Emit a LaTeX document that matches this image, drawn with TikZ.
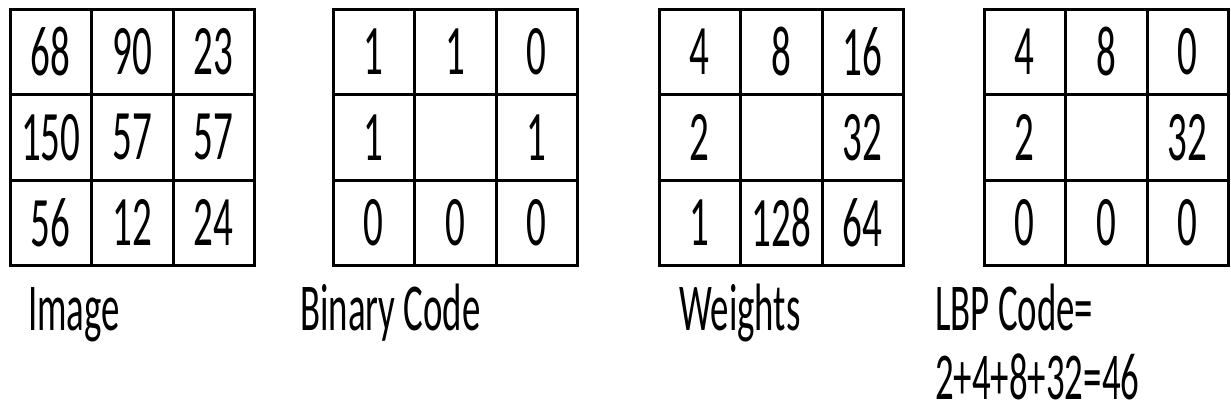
\documentclass[tikz,border=0pt]{standalone}
\usepackage{fontspec}
\setmainfont{Carlito}[FakeStretch=0.55]
\usetikzlibrary{positioning}
\tikzset{
  cell/.style={draw, line width=3pt, minimum width=81.5pt, minimum height=85.5pt,
               inner sep=0pt, font=\fontsize{71}{71}\selectfont},
  lbl/.style ={anchor=base west, inner sep=0pt, text depth=0pt,
               font=\fontsize{67}{67}\selectfont},
}

\begin{document}
\begin{tikzpicture}[x=1pt,y=-1pt]
  \useasboundingbox (0,0) rectangle (1231,416);
  % the four 3x3 grids
  \foreach \g/\gx/\vals in {img/10/{68,90,23,150,57,57,56,12,24},
                            bin/333/{1,1,0,1,{},1,0,0,0},
                            wgt/659/{4,8,16,2,{},32,1,128,64},
                            lbp/984/{4,8,0,2,{},32,0,0,0}} {
    \foreach \v [count=\i from 0] in \vals {
      \pgfmathtruncatemacro\r{div(\i,3)}
      \pgfmathtruncatemacro\c{mod(\i,3)}
      \node[cell] (\g-\r-\c) at (\gx+40.75+81.5*\c, 9+42.75+85.5*\r) {\v};
    }
  }
  % captions
  \node[lbl] (img-cap) at (28,330) {Image};
  \node[lbl] (bin-cap) at (300,330) {Binary Code};
  \node[lbl] (wgt-cap) at (679,330) {Weights};
  \node[lbl] (lbp-cap) at (935,330) {LBP Code=};
  \node[lbl] (lbp-sum) at (935,399) {2+4+8+32=46};
\end{tikzpicture}
\end{document}
